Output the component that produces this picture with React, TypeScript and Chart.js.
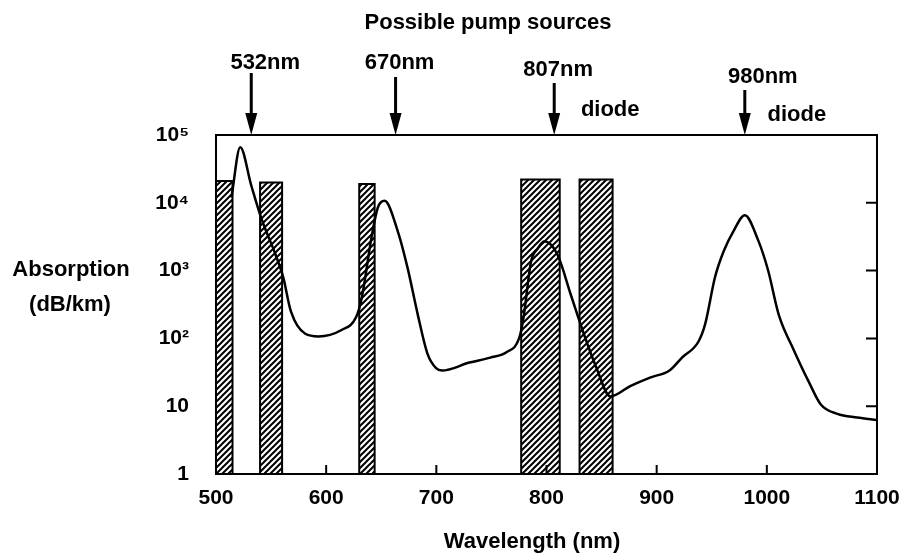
import { useEffect, useRef } from 'react';
import { Chart, registerables } from 'chart.js';

Chart.register(...registerables);

// Absorption spectrum (wavelength in nm, absorption in dB/km)
const wavelengths = [514, 522, 532, 541, 554, 561, 568, 581, 593, 614, 627, 632, 642, 647, 653, 665, 674, 683, 692, 700, 705, 730, 749, 764, 775, 779, 786, 792, 798, 810, 822, 834, 845, 858, 876, 894, 912, 923, 938, 944, 953, 961, 970, 980, 992, 1001, 1011, 1024, 1038, 1049, 1064, 1082, 1100];
const absorption = [12000, 66000, 18000, 6000, 1730, 800, 250, 117, 107, 133, 203, 375, 3700, 8600, 10700, 3800, 1080, 230, 59, 36, 33.5, 44, 52, 63, 99, 196, 1360, 2100, 2700, 1710, 444, 115, 38, 13.9, 19.8, 26.4, 34, 52, 90, 162, 805, 1960, 3900, 6560, 2840, 1030, 218, 70, 23, 10.6, 7.7, 6.8, 6.25];

// Hatched bands
const bandStart = [500, 540, 630, 777, 830];
const bandEnd = [515, 560, 644, 812, 860];
const bandTop = [21000, 20000, 19000, 22000, 22000];

// Pump sources
const pumpLabels = ['532nm', '670nm', '807nm', '980nm'];
const pumpArrowAt = [532, 663, 807, 980];
const pumpNotes = ['', '', 'diode', 'diode'];

// Axes
const xTicks = [500, 600, 700, 800, 900, 1000, 1100];
const xTickLabels = ['500', '600', '700', '800', '900', '1000', '1100'];
const xInnerTicks = [600, 700, 800, 900, 1000];
const yTicks = [1, 10, 100, 1000, 10000, 100000];
const yTickLabels = ['1', '10', '10²', '10³', '10⁴', '10⁵'];
const yInnerTicks = [10, 100, 1000, 10000];

const chartTitle = 'Possible pump sources';
const xTitle = 'Wavelength (nm)';
const yTitleLines = ['Absorption', '(dB/km)'];

const FONT = '"Liberation Sans", Arial, Helvetica, sans-serif';

function makeHatch(): CanvasPattern | string {
  const c = document.createElement('canvas');
  c.width = 6;
  c.height = 6;
  const g = c.getContext('2d');
  if (!g) return '#888';
  g.fillStyle = '#fff';
  g.fillRect(0, 0, 6, 6);
  g.strokeStyle = '#000';
  g.lineWidth = 2;
  g.beginPath();
  g.moveTo(-1, 7);
  g.lineTo(7, -1);
  g.moveTo(-1, 1);
  g.lineTo(1, -1);
  g.moveTo(5, 7);
  g.lineTo(7, 5);
  g.stroke();
  return g.createPattern(c, 'repeat') || '#888';
}

const decorPlugin = {
  id: 'decor',
  afterDraw(chart: any) {
    const ctx = chart.ctx as CanvasRenderingContext2D;
    const { left, right, top, bottom } = chart.chartArea;
    const xs = chart.scales.x;
    const ys = chart.scales.y;
    ctx.save();
    ctx.strokeStyle = '#000';
    ctx.fillStyle = '#000';
    ctx.lineWidth = 2;
    // frame
    ctx.strokeRect(left, top, right - left, bottom - top);
    // inward ticks bottom
    ctx.beginPath();
    xInnerTicks.forEach((v) => {
      const px = xs.getPixelForValue(v);
      ctx.moveTo(px, bottom);
      ctx.lineTo(px, bottom - 9);
    });
    // inward ticks right
    yInnerTicks.forEach((v) => {
      const py = ys.getPixelForValue(v);
      ctx.moveTo(right, py);
      ctx.lineTo(right - 11, py);
    });
    ctx.stroke();

    // arrows
    const labelDx = [14, 4, 4, 18];
    const labelY = [63, 63, 70, 77];
    const tailY = [73, 77, 83, 90];
    const noteDx = [0, 0, 56, 52];
    const noteY = [0, 0, 110, 115];
    ctx.font = `bold 22px ${FONT}`;
    ctx.textAlign = 'center';
    ctx.textBaseline = 'middle';
    pumpArrowAt.forEach((v, i) => {
      const px = xs.getPixelForValue(v);
      const headLen = 22;
      ctx.lineWidth = 3;
      ctx.beginPath();
      ctx.moveTo(px, tailY[i]);
      ctx.lineTo(px, top - headLen + 2);
      ctx.stroke();
      ctx.beginPath();
      ctx.moveTo(px - 6, top - headLen);
      ctx.lineTo(px + 6, top - headLen);
      ctx.lineTo(px, top);
      ctx.closePath();
      ctx.fill();
      ctx.fillText(pumpLabels[i], px + labelDx[i], labelY[i]);
      if (pumpNotes[i]) ctx.fillText(pumpNotes[i], px + noteDx[i], noteY[i]);
    });

    // titles
    ctx.fillText(chartTitle, 488, 23);
    ctx.fillText(xTitle, 532, 542);
    ctx.fillText(yTitleLines[0], 71, 270);
    ctx.fillText(yTitleLines[1], 70, 305);
    ctx.restore();
  },
};

export default function App() {
  const ref = useRef<HTMLCanvasElement | null>(null);
  useEffect(() => {
    const canvas = ref.current;
    if (!canvas) return;
    const hatch = makeHatch();
    const bandSets = bandStart.map((s, i) => ({
      type: 'line' as const,
      data: [
        { x: s, y: 1 },
        { x: s, y: bandTop[i] },
        { x: bandEnd[i], y: bandTop[i] },
        { x: bandEnd[i], y: 1 },
      ],
      borderColor: '#000',
      borderWidth: 2,
      backgroundColor: hatch,
      fill: 'start' as const,
      pointRadius: 0,
      tension: 0,
      order: 1,
    }));
    const curve = {
      type: 'line' as const,
      data: wavelengths.map((w, i) => ({ x: w, y: absorption[i] })),
      borderColor: '#000',
      borderWidth: 2.5,
      fill: false,
      pointRadius: 0,
      cubicInterpolationMode: 'monotone' as const,
      order: 0,
    };
    const tickFont = { family: FONT, size: 21, weight: 'bold' as const };
    const chart = new Chart(canvas, {
      type: 'line',
      data: { datasets: [curve, ...bandSets] as any },
      plugins: [decorPlugin],
      options: {
        animation: false,
        responsive: false,
        maintainAspectRatio: false,
        devicePixelRatio: 1,
        layout: { padding: { top: 135, right: 22, left: 0, bottom: 0 } },
        plugins: { legend: { display: false }, tooltip: { enabled: false }, title: { display: false } },
        scales: {
          x: {
            type: 'linear',
            min: 500,
            max: 1100,
            grid: { display: false, drawTicks: false },
            border: { display: false },
            ticks: {
              font: tickFont,
              color: '#000',
              padding: 12,
              maxRotation: 0,
              callback: (_v: any, i: number) => xTickLabels[i],
            },
            afterBuildTicks: (scale: any) => {
              scale.ticks = xTicks.map((v) => ({ value: v }));
            },
            afterFit: (scale: any) => {
              scale.height = 558 - 474;
              scale.paddingLeft = 0;
              scale.paddingRight = 0;
            },
          },
          y: {
            type: 'logarithmic',
            min: 1,
            max: 100000,
            grid: { display: false, drawTicks: false },
            border: { display: false },
            ticks: {
              font: tickFont,
              color: '#000',
              padding: 27,
              callback: (_v: any, i: number) => yTickLabels[i],
            },
            afterBuildTicks: (scale: any) => {
              scale.ticks = yTicks.map((v) => ({ value: v }));
            },
            afterFit: (scale: any) => {
              scale.width = 216;
            },
          },
        },
      } as any,
    });
    return () => chart.destroy();
  }, []);
  return (
    <div style={{ position: 'absolute', left: 0, top: 0, width: 899, height: 558, background: '#fff' }}>
      <canvas ref={ref} width={899} height={558} style={{ display: 'block' }} />
    </div>
  );
}
